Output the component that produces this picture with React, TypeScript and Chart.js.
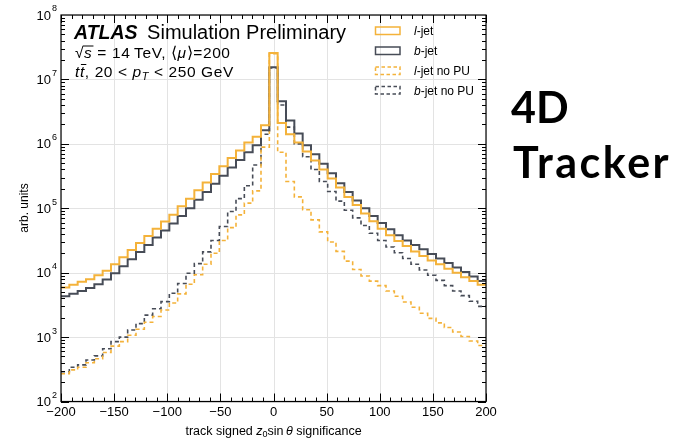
import React, { useEffect, useRef } from 'react';
import { Chart, registerables } from 'chart.js';

Chart.register(...registerables);

// ---- axis definitions ----
const X_MIN = -200;
const X_MAX = 200;
const BIN_COUNT = 51;
const X_TICKS = [-200, -150, -100, -50, 0, 50, 100, 150, 200];
const Y_MIN = 1e2;
const Y_MAX = 1e8;
const Y_DECADES = [2, 3, 4, 5, 6, 7, 8];

// ---- histogram contents (51 bins from -200 to 200) ----
const L_JET = [
  5.9e3, 6.5e3, 7.2e3, 7.9e3, 9.1e3, 1.07e4, 1.35e4, 1.74e4, 2.24e4, 2.88e4,
  3.7e4, 4.8e4, 6.2e4, 7.9e4, 1.07e5, 1.41e5, 1.9e5, 2.5e5, 3.4e5, 4.5e5,
  6.0e5, 7.9e5, 1.05e6, 1.29e6, 1.95e6, 2.57e7, 2.1e6, 1.41e6, 1.05e6, 7.6e5,
  5.5e5, 4.0e5, 2.9e5, 2.1e5, 1.5e5, 1.12e5, 8.3e4, 6.3e4, 4.8e4, 3.8e4,
  3.1e4, 2.6e4, 2.14e4, 1.82e4, 1.55e4, 1.35e4, 1.15e4, 1.0e4, 8.5e3, 7.4e3,
  6.5e3,
];
const B_JET = [
  4.3e3, 4.7e3, 5.2e3, 5.8e3, 6.6e3, 7.8e3, 9.8e3, 1.26e4, 1.62e4, 2.1e4,
  2.7e4, 3.5e4, 4.5e4, 5.8e4, 7.6e4, 1.0e5, 1.35e5, 1.78e5, 2.4e5, 3.2e5,
  4.3e5, 5.6e5, 7.4e5, 9.5e5, 1.62e6, 1.55e7, 4.6e6, 2.3e6, 1.45e6, 9.5e5,
  6.9e5, 4.9e5, 3.5e5, 2.45e5, 1.78e5, 1.32e5, 1.0e5, 7.6e4, 5.9e4, 4.7e4,
  3.8e4, 3.16e4, 2.7e4, 2.3e4, 1.95e4, 1.66e4, 1.41e4, 1.2e4, 1.02e4, 8.7e3,
  7.4e3,
];
const L_JET_NO_PU = [
  270, 310, 340, 400, 460, 575, 725, 850, 1070, 1320,
  1700, 2090, 2630, 3390, 4680, 6600, 9300, 1.35e4, 2.0e4, 3.16e4,
  5.0e4, 7.9e4, 1.2e5, 1.86e5, 8.9e5, 2.5e7, 7.4e5, 2.6e5, 1.5e5, 9.5e4,
  6.6e4, 4.3e4, 3.0e4, 2.14e4, 1.51e4, 1.12e4, 8.9e3, 7.4e3, 6.3e3, 5.2e3,
  4.3e3, 3.5e3, 2.9e3, 2.35e3, 1.95e3, 1.66e3, 1.41e3, 1.2e3, 1.02e3, 870,
  740,
];
const B_JET_NO_PU = [
  290, 340, 370, 440, 510, 660, 850, 1000, 1290, 1620,
  2190, 2750, 3550, 4800, 6800, 9800, 1.38e4, 2.1e4, 3.16e4, 5.2e4,
  8.9e4, 1.41e5, 2.24e5, 4.7e5, 1.41e6, 1.5e7, 4.0e6, 1.82e6, 1.0e6, 6.3e5,
  4.0e5, 2.6e5, 1.82e5, 1.29e5, 9.3e4, 7.1e4, 5.4e4, 4.1e4, 3.16e4, 2.5e4,
  2.04e4, 1.66e4, 1.35e4, 1.1e4, 9.1e3, 7.6e3, 6.3e3, 5.2e3, 4.4e3, 3.6e3,
  3.0e3,
];

const YELLOW = '#f4b23a';
const DARK = '#474c57';

const SERIES = [
  { flavour: 'l', suffix: '-jet', data: L_JET, color: YELLOW, dashed: false },
  { flavour: 'b', suffix: '-jet', data: B_JET, color: DARK, dashed: false },
  { flavour: 'l', suffix: '-jet no PU', data: L_JET_NO_PU, color: YELLOW, dashed: true },
  { flavour: 'b', suffix: '-jet no PU', data: B_JET_NO_PU, color: DARK, dashed: true },
];

const FONT = '"Liberation Sans", Arial, Helvetica, sans-serif';

const binEdges = Array.from({ length: BIN_COUNT + 1 }, (_, i) => X_MIN + ((X_MAX - X_MIN) * i) / BIN_COUNT);

function toSteps(values: number[]) {
  const pts = values.map((v, i) => ({ x: binEdges[i], y: v }));
  pts.push({ x: binEdges[BIN_COUNT], y: values[values.length - 1] });
  return pts;
}

type Part = { t: string; f: string; dy?: number };

function drawParts(ctx: CanvasRenderingContext2D, parts: Part[], x: number, y: number) {
  let cx = x;
  const pos: number[] = [];
  for (const p of parts) {
    ctx.font = p.f;
    pos.push(cx);
    ctx.fillText(p.t, cx, y + (p.dy || 0));
    cx += ctx.measureText(p.t).width;
  }
  pos.push(cx);
  return pos;
}

function fmt(v: number) {
  return v < 0 ? '\u2212' + String(-v) : String(v);
}

const decor = {
  id: 'decor',
  beforeDatasetsDraw(chart: any) {
    const { ctx, chartArea: a, scales } = chart;
    const xs = scales.x;
    const ys = scales.y;
    ctx.save();
    ctx.strokeStyle = '#e3e3e3';
    ctx.lineWidth = 1;
    ctx.beginPath();
    for (const t of X_TICKS) {
      const px = Math.round(xs.getPixelForValue(t)) + 0.5;
      ctx.moveTo(px, a.top);
      ctx.lineTo(px, a.bottom);
    }
    for (const d of Y_DECADES) {
      const py = Math.round(ys.getPixelForValue(Math.pow(10, d))) + 0.5;
      ctx.moveTo(a.left, py);
      ctx.lineTo(a.right, py);
    }
    ctx.stroke();
    ctx.restore();
  },
  afterDatasetsDraw(chart: any) {
    const { ctx, chartArea: a, scales } = chart;
    const xs = scales.x;
    const ys = scales.y;
    ctx.save();
    ctx.fillStyle = '#000';
    ctx.strokeStyle = '#000';

    // frame
    ctx.lineWidth = 1.2;
    ctx.strokeRect(a.left, a.top, a.right - a.left, a.bottom - a.top);

    // x ticks (inward, both sides)
    ctx.lineWidth = 1;
    ctx.beginPath();
    for (let v = X_MIN; v <= X_MAX; v += 10) {
      const px = Math.round(xs.getPixelForValue(v)) + 0.5;
      const len = X_TICKS.includes(v) ? 8 : 4;
      ctx.moveTo(px, a.bottom);
      ctx.lineTo(px, a.bottom - len);
      ctx.moveTo(px, a.top);
      ctx.lineTo(px, a.top + len);
    }
    // y ticks
    for (let d = Y_DECADES[0]; d < Y_DECADES[Y_DECADES.length - 1]; d++) {
      for (let m = 1; m <= 9; m++) {
        const py = Math.round(ys.getPixelForValue(m * Math.pow(10, d))) + 0.5;
        const len = m === 1 ? 8 : 4;
        ctx.moveTo(a.left, py);
        ctx.lineTo(a.left + len, py);
        ctx.moveTo(a.right, py);
        ctx.lineTo(a.right - len, py);
      }
    }
    ctx.stroke();

    // x tick labels
    ctx.font = `13px ${FONT}`;
    ctx.textAlign = 'center';
    ctx.textBaseline = 'middle';
    for (const t of X_TICKS) {
      ctx.fillText(fmt(t), xs.getPixelForValue(t), a.bottom + 11);
    }
    // y tick labels 10^n
    for (const d of Y_DECADES) {
      const py = ys.getPixelForValue(Math.pow(10, d));
      ctx.font = `13px ${FONT}`;
      ctx.textAlign = 'right';
      ctx.fillText('10', 51, py + 1);
      ctx.font = `9px ${FONT}`;
      ctx.textAlign = 'left';
      ctx.fillText(String(d), 52, py - 6);
    }

    // axis titles
    ctx.textBaseline = 'alphabetic';
    ctx.textAlign = 'left';
    const xtParts: Part[] = [
      { t: 'track signed ', f: `12.5px ${FONT}` },
      { t: 'z', f: `italic 12.5px ${FONT}` },
      { t: '0', f: `9px ${FONT}`, dy: 2.5 },
      { t: 'sin', f: `12.5px ${FONT}` },
      { t: '\u2009', f: `12.5px ${FONT}` },
      { t: '\u03b8', f: `italic 12.5px ${FONT}` },
      { t: ' significance', f: `12.5px ${FONT}` },
    ];
    let w = 0;
    for (const p of xtParts) {
      ctx.font = p.f;
      w += ctx.measureText(p.t).width;
    }
    drawParts(ctx, xtParts, (a.left + a.right) / 2 - w / 2, 434.5);

    ctx.save();
    ctx.translate(28, 208);
    ctx.rotate(-Math.PI / 2);
    ctx.font = `12px ${FONT}`;
    ctx.textAlign = 'center';
    ctx.fillText('arb. units', 0, 0);
    ctx.restore();

    // ATLAS label
    ctx.textAlign = 'left';
    drawParts(ctx, [
      { t: 'ATLAS', f: `italic bold 19.5px ${FONT}` },
      { t: '\u2009 Simulation Preliminary', f: `20px ${FONT}` },
    ], 74, 39);

    ctx.letterSpacing = '0.6px';
    const f14 = `15.5px ${FONT}`;
    const i14 = `italic 15.5px ${FONT}`;
    const p2 = drawParts(ctx, [
      { t: '\u221a', f: f14 },
      { t: 's', f: i14 },
      { t: ' = 14\u2009TeV, \u27e8', f: f14 },
      { t: '\u03bc', f: i14 },
      { t: '\u27e9=200', f: f14 },
    ], 75, 57.5);
    ctx.lineWidth = 1;
    ctx.beginPath();
    ctx.moveTo(p2[1] - 1, 46);
    ctx.lineTo(p2[2] + 1, 46);
    ctx.stroke();

    const p3 = drawParts(ctx, [
      { t: 't', f: i14 },
      { t: 't', f: i14 },
      { t: ', 20 < ', f: f14 },
      { t: 'p', f: i14 },
      { t: 'T', f: `italic 11px ${FONT}`, dy: 3 },
      { t: ' < 250 GeV', f: f14 },
    ], 75, 76.5);
    ctx.beginPath();
    ctx.moveTo(p3[1] + 1, 64.5);
    ctx.lineTo(p3[2] + 1.5, 64.5);
    ctx.stroke();
    ctx.letterSpacing = '0px';

    // legend
    const rows = [30.5, 50.5, 70.5, 90];
    SERIES.forEach((s, i) => {
      const cy = rows[i];
      ctx.save();
      ctx.strokeStyle = s.color;
      ctx.lineWidth = 1.5;
      ctx.setLineDash(s.dashed ? [3.5, 2.5] : []);
      ctx.strokeRect(375.5, cy - 3.5, 24.5, 7.5);
      ctx.restore();
      ctx.fillStyle = '#000';
      drawParts(ctx, [
        { t: s.flavour, f: `italic 12px ${FONT}` },
        { t: s.suffix, f: `12px ${FONT}` },
      ], 414, cy + 4.5);
    });

    // side text
    ctx.font = `bold 43px Lato, ${FONT}`;
    ctx.fillStyle = '#000';
    ctx.letterSpacing = '0px';
    ctx.fillText('4D', 511, 123);
    ctx.letterSpacing = '2.5px';
    ctx.fillText('Tracker', 513, 178);
    ctx.letterSpacing = '0px';

    ctx.restore();
  },
};

export default function App() {
  const ref = useRef<HTMLCanvasElement | null>(null);
  useEffect(() => {
    if (!ref.current) return;
    const chart = new Chart(ref.current, {
      type: 'line',
      data: {
        datasets: SERIES.map((s) => ({
          label: s.flavour + s.suffix,
          data: toSteps(s.data),
          borderColor: s.color,
          backgroundColor: s.color,
          borderWidth: s.dashed ? 1.6 : 2,
          borderDash: s.dashed ? [4, 3] : [],
          pointRadius: 0,
          stepped: 'before',
          fill: false,
          tension: 0,
        })),
      },
      options: {
        animation: false,
        responsive: false,
        devicePixelRatio: 1,
        layout: { padding: { left: 0, right: 193, top: 15, bottom: 0 } },
        plugins: { legend: { display: false }, tooltip: { enabled: false } },
        scales: {
          x: {
            type: 'linear',
            min: X_MIN,
            max: X_MAX,
            grid: { display: false },
            border: { display: false },
            ticks: { display: false },
            afterFit: (s: any) => { s.height = 36.5; },
          },
          y: {
            type: 'logarithmic',
            min: Y_MIN,
            max: Y_MAX,
            grid: { display: false },
            border: { display: false },
            ticks: { display: false },
            afterFit: (s: any) => { s.width = 61; },
          },
        },
      } as any,
      plugins: [decor],
    });
    return () => chart.destroy();
  }, []);
  return (
    <div style={{ position: 'fixed', left: 0, top: 0, width: 679, height: 438, background: '#fff' }}>
      <canvas ref={ref} width={679} height={438} style={{ display: 'block' }} />
    </div>
  );
}
